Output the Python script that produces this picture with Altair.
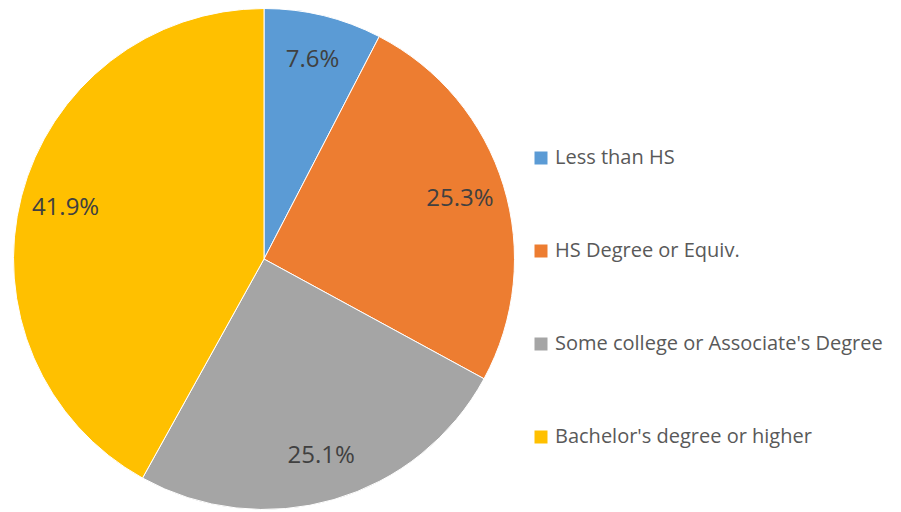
import altair as alt
import pandas as pd

categories = ["Less than HS", "HS Degree or Equiv.", "Some college or Associate's Degree", "Bachelor's degree or higher"]
values = [7.6, 25.3, 25.1, 41.9]
labels = ["7.6%", "25.3%", "25.1%", "41.9%"]
colors = ["#5B9BD5", "#ED7D31", "#A5A5A5", "#FFC000"]

df = pd.DataFrame({
    "category": categories,
    "value": values,
    "label": labels,
    "idx": list(range(len(categories))),
})

cx, cy, R = 256, 251, 250.5

base = alt.Chart(df).encode(
    theta=alt.Theta("value:Q", stack=True),
    order=alt.Order("idx:Q"),
    x=alt.value(cx),
    y=alt.value(cy),
)

pie = base.mark_arc(radius=R, stroke="white", strokeWidth=1).encode(
    color=alt.Color(
        "category:N",
        scale=alt.Scale(domain=categories, range=colors),
        sort=categories,
        legend=alt.Legend(
            title=None,
            orient="none",
            legendX=523,
            legendY=140,
            symbolType="square",
            symbolSize=169,
            symbolStrokeWidth=0,
            labelFont="Open Sans",
            labelFontSize=20,
            labelColor="#595959",
            labelOffset=4,
            rowPadding=73,
            labelLimit=400,
            padding=0,
        ),
    )
)

text = base.mark_text(radius=205, font="Open Sans", fontSize=24, color="#404040").encode(
    text="label:N"
)

chart = (pie + text).properties(
    width=885, height=504, padding=0, autosize=alt.AutoSizeParams(type="none")
).configure_view(stroke=None)

chart.save("out.html", embed_options={"renderer": "svg", "actions": False})
